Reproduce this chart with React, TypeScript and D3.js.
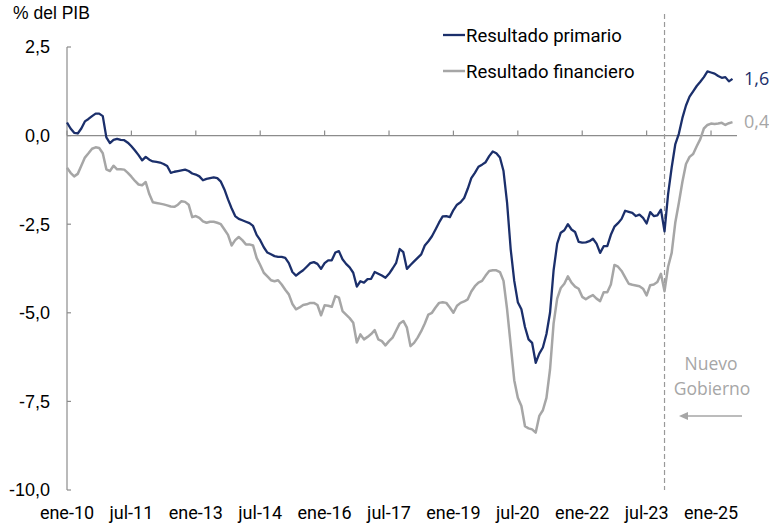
import * as d3 from 'd3';

// monthly series, ene-10 .. jul-25 (% del PIB)
const primario = [
  0.37, 0.2, 0.08, 0.06, 0.2, 0.4, 0.47, 0.55, 0.62, 0.62, 0.55, -0.05,
  -0.21, -0.12, -0.09, -0.12, -0.13, -0.2, -0.3, -0.42, -0.55, -0.7, -0.6, -0.68,
  -0.73, -0.74, -0.76, -0.8, -0.86, -1.05, -1.02, -1.0, -0.98, -0.96, -1.0, -1.07,
  -1.1, -1.15, -1.26, -1.22, -1.2, -1.18, -1.2, -1.3, -1.52, -1.8, -2.05, -2.27,
  -2.35, -2.39, -2.43, -2.47, -2.55, -2.8, -2.95, -3.15, -3.3, -3.35, -3.4, -3.42,
  -3.42, -3.45, -3.6, -3.85, -3.95, -3.87, -3.8, -3.7, -3.6, -3.57, -3.62, -3.76,
  -3.6, -3.52, -3.52, -3.3, -3.26, -3.49, -3.62, -3.72, -3.87, -4.26, -4.11, -4.15,
  -4.05, -4.04, -3.85, -3.9, -3.95, -4.01, -3.9, -3.75, -3.59, -3.2, -3.29, -3.76,
  -3.65, -3.55, -3.45, -3.35, -3.1, -2.98, -2.84, -2.65, -2.45, -2.28, -2.27, -2.3,
  -2.1, -1.95, -1.88, -1.76, -1.5, -1.2, -1.05, -0.88, -0.82, -0.75, -0.58, -0.45,
  -0.5, -0.62, -1.0, -1.9, -3.2, -4.1, -4.7, -4.9, -5.4, -5.75, -5.85, -6.41,
  -6.15, -5.98, -5.6, -5.0, -3.8, -3.05, -2.74, -2.67, -2.5, -2.65, -2.72, -3.0,
  -3.02, -3.01, -2.98, -2.91, -3.05, -3.31, -3.12, -3.12, -2.8, -2.57, -2.47, -2.35,
  -2.12, -2.15, -2.18, -2.27, -2.23, -2.32, -2.48, -2.16, -2.27, -2.25, -2.09, -2.7,
  -1.65, -0.9, -0.25, 0.05, 0.5, 0.85, 1.1, 1.25, 1.4, 1.52, 1.65, 1.81,
  1.78, 1.75, 1.68, 1.63, 1.65, 1.53, 1.6,
];

const financiero = [
  -0.91, -1.05, -1.15, -1.08, -0.85, -0.62, -0.5, -0.37, -0.33, -0.35, -0.5, -0.95,
  -1.0, -0.85, -0.95, -0.95, -0.96, -1.05, -1.16, -1.28, -1.38, -1.4, -1.31, -1.65,
  -1.88, -1.9, -1.92, -1.94, -1.97, -2.0, -2.01, -1.95, -1.85, -1.87, -1.95, -2.3,
  -2.27, -2.32, -2.42, -2.46, -2.43, -2.43, -2.46, -2.5, -2.65, -2.8, -3.1, -2.95,
  -2.86, -2.95, -3.07, -3.07, -3.1, -3.45, -3.65, -3.87, -3.97, -4.08, -4.11, -4.08,
  -4.2, -4.35, -4.48, -4.75, -4.9, -4.85, -4.78, -4.76, -4.72, -4.72, -4.78, -5.07,
  -4.79, -4.8, -4.83, -4.53, -4.57, -4.95, -5.05, -5.15, -5.28, -5.84, -5.61, -5.75,
  -5.68, -5.6, -5.49, -5.75, -5.8, -5.92, -5.8, -5.7, -5.5, -5.3, -5.23, -5.42,
  -5.94, -5.85, -5.7, -5.52, -5.3, -5.05, -5.0, -4.85, -4.72, -4.7, -4.72, -4.85,
  -5.0, -4.8, -4.72, -4.68, -4.62, -4.4, -4.25, -4.15, -4.1, -3.95, -3.82, -3.8,
  -3.8, -3.85, -4.1, -4.9, -5.9, -6.9, -7.4, -7.63, -8.2, -8.26, -8.29, -8.38,
  -7.91, -7.75, -7.4, -6.6, -5.3, -4.6, -4.3, -4.18, -3.97, -4.15, -4.26, -4.32,
  -4.55, -4.62, -4.55, -4.5, -4.6, -4.67, -4.42, -4.42, -4.2, -3.65, -3.7, -3.82,
  -4.0, -4.18, -4.21, -4.23, -4.25, -4.32, -4.51, -4.22, -4.2, -4.13, -3.9, -4.39,
  -3.7, -3.31, -2.46, -1.9, -1.3, -0.8, -0.6, -0.52, -0.3, -0.1, 0.2, 0.3,
  0.34, 0.33, 0.34, 0.36, 0.3, 0.35, 0.38,
];

const xTickLabels = ['ene-10', 'jul-11', 'ene-13', 'jul-14', 'ene-16', 'jul-17', 'ene-19', 'jul-20', 'ene-22', 'jul-23', 'ene-25'];
const yTicks = [2.5, 0, -2.5, -5, -7.5, -10];
const nuevoGobiernoMonth = 167; // dic-23

const NAVY = '#1b2f6b';
const GRAY = '#a6a6a6';
const AXIS = '#8c8c8c';

const fmt = (v: number) => d3.format('.1f')(v).replace('.', ',').replace('−', '-');

export default function App() {
  const width = 769;
  const height = 525;

  const x = d3.scaleLinear().domain([0, 186]).range([67, 732.5]);
  const y = d3.scaleLinear().domain([-10, 2.5]).range([490, 47]);

  const line = d3.line<number>()
    .x((_, i) => x(i))
    .y(d => y(d));

  const last = primario.length - 1;

  return (
    <svg width={width} height={height} style={{ position: 'absolute', left: 0, top: 0, background: '#fff' }}>
      <text x={13} y={19} fontFamily="Liberation Sans, Arial, sans-serif" fontSize={17.5} fill="#000">% del PIB</text>

      {/* y axis */}
      <line x1={67} x2={67} y1={y(2.5)} y2={y(-10)} stroke={AXIS} strokeWidth={1.2} />
      {yTicks.map(t => (
        <g key={t}>
          <line x1={67} x2={71} y1={y(t)} y2={y(t)} stroke={AXIS} strokeWidth={1.2} />
          <text x={50} y={y(t)} dy="0.35em" textAnchor="end" fontFamily="Liberation Sans, Arial, sans-serif" fontSize={18} fill="#000">
            {fmt(t)}
          </text>
        </g>
      ))}

      {/* x axis on zero */}
      <line x1={67} x2={737} y1={y(0)} y2={y(0)} stroke={AXIS} strokeWidth={1.2} />
      {xTickLabels.map((lab, i) => (
        <g key={lab}>
          <line x1={x(i * 18)} x2={x(i * 18)} y1={y(0)} y2={y(0) - 5} stroke={AXIS} strokeWidth={1.2} />
          <text x={x(i * 18)} y={519} textAnchor="middle" fontFamily="Roboto, sans-serif" fontSize={18} fill="#000">
            {lab}
          </text>
        </g>
      ))}

      {/* nuevo gobierno marker */}
      <line x1={x(nuevoGobiernoMonth)} x2={x(nuevoGobiernoMonth)} y1={14} y2={490} stroke="#999" strokeWidth={1.2} strokeDasharray="5,3" />
      <text x={711} y={370} textAnchor="middle" fontFamily="Open Sans, sans-serif" fontSize={17.5} fill={GRAY}>Nuevo</text>
      <text x={712} y={395} textAnchor="middle" fontFamily="Open Sans, sans-serif" fontSize={17.5} fill={GRAY}>Gobierno</text>
      <line x1={742} x2={686} y1={416} y2={416} stroke={GRAY} strokeWidth={1.5} />
      <path d="M679,416 L688,412 L688,420 Z" fill={GRAY} />

      {/* series */}
      <path d={line(financiero) ?? ''} fill="none" stroke={GRAY} strokeWidth={2.5} strokeLinejoin="round" />
      <path d={line(primario) ?? ''} fill="none" stroke={NAVY} strokeWidth={2.3} strokeLinejoin="round" />

      {/* end labels */}
      <text x={744} y={y(primario[last])} dy="0.35em" fontFamily="Open Sans, sans-serif" fontSize={18} fill={NAVY}>
        {fmt(primario[last])}
      </text>
      <text x={744} y={y(financiero[last])} dy="0.35em" fontFamily="Open Sans, sans-serif" fontSize={18} fill={GRAY}>
        {fmt(financiero[last])}
      </text>

      {/* legend */}
      <line x1={443} x2={465} y1={35} y2={35} stroke={NAVY} strokeWidth={2.3} />
      <text x={466} y={41.5} fontFamily="Roboto, sans-serif" fontSize={18.5} fill="#000">Resultado primario</text>
      <line x1={443} x2={465} y1={71} y2={71} stroke={GRAY} strokeWidth={2.5} />
      <text x={466} y={77.5} fontFamily="Roboto, sans-serif" fontSize={18.5} fill="#000">Resultado financiero</text>
    </svg>
  );
}
